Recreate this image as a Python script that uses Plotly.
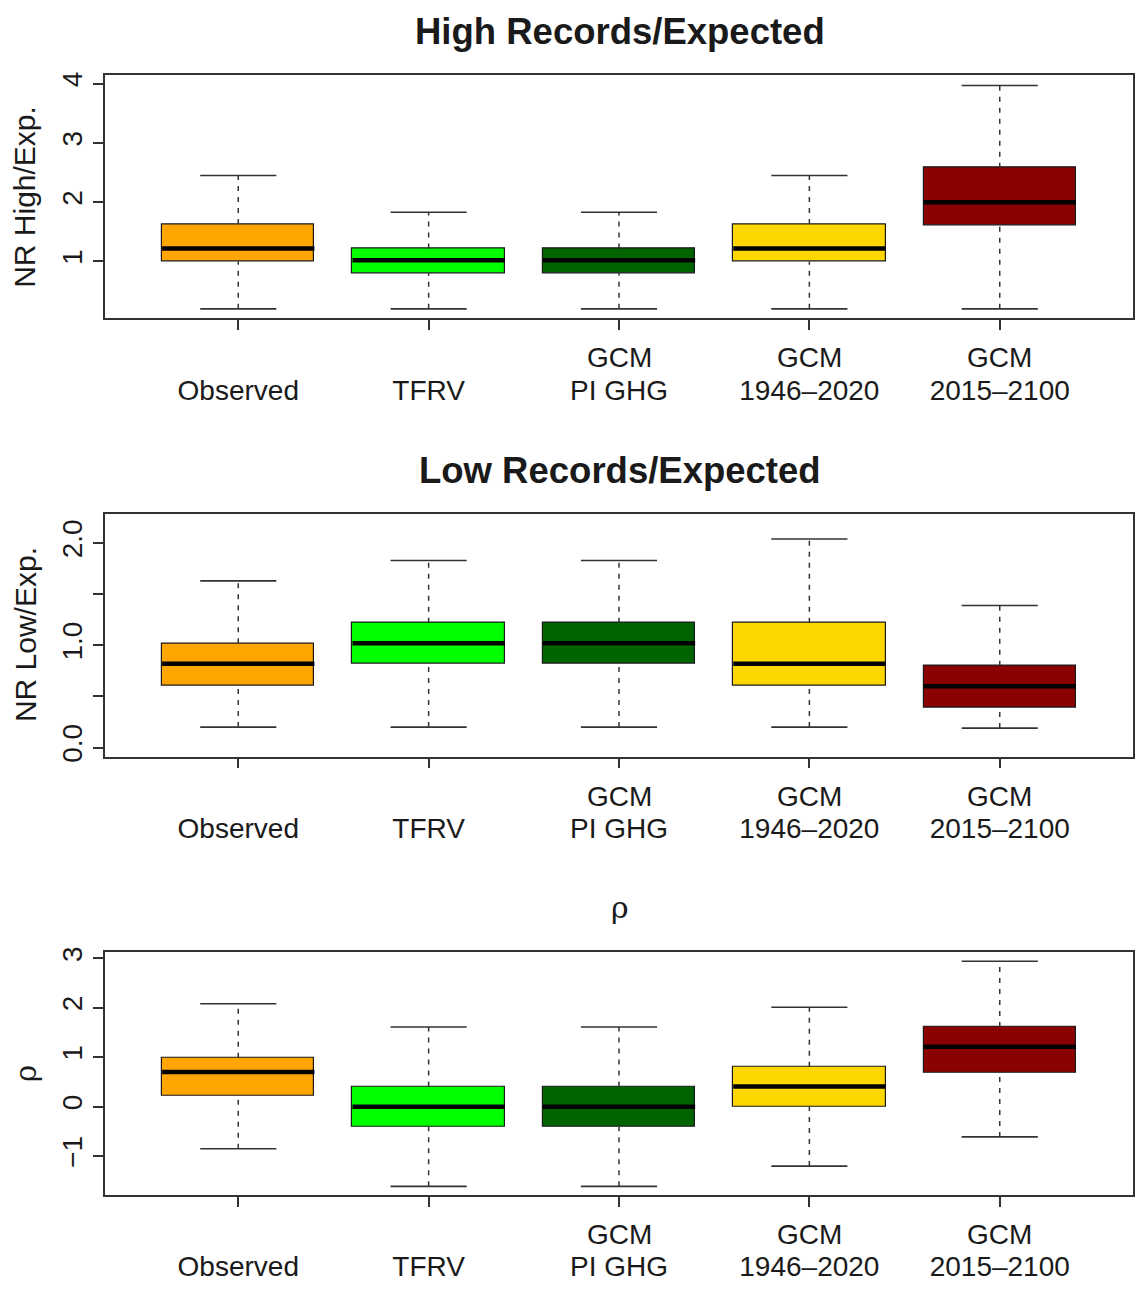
import plotly.graph_objects as go

# ---------------- data ----------------
categories_top = ["", "", "GCM", "GCM", "GCM"]
categories_bottom = ["Observed", "TFRV", "PI GHG", "1946–2020", "2015–2100"]
box_colors = ["#FFA500", "#00FF00", "#006400", "#FFD700", "#8B0000"]

# High records / expected
high_lo = [0.20, 0.20, 0.20, 0.20, 0.20]
high_q1 = [1.00, 0.80, 0.80, 1.00, 1.60]
high_med = [1.22, 1.02, 1.02, 1.22, 2.00]
high_q3 = [1.63, 1.22, 1.22, 1.63, 2.58]
high_hi = [2.45, 1.83, 1.83, 2.45, 3.97]

# Low records / expected
low_lo = [0.20, 0.20, 0.20, 0.20, 0.19]
low_q1 = [0.61, 0.82, 0.82, 0.61, 0.39]
low_med = [0.82, 1.02, 1.02, 0.82, 0.60]
low_q3 = [1.02, 1.22, 1.22, 1.22, 0.80]
low_hi = [1.63, 1.83, 1.83, 2.04, 1.39]

# rho
rho_lo = [-0.85, -1.61, -1.61, -1.20, -0.61]
rho_q1 = [0.22, -0.41, -0.41, 0.00, 0.69]
rho_med = [0.70, 0.00, 0.00, 0.41, 1.21]
rho_q3 = [0.99, 0.41, 0.41, 0.81, 1.61]
rho_hi = [2.08, 1.61, 1.61, 2.01, 2.94]

y_ticks_1 = [1, 2, 3, 4]
y_ticklabels_1 = ["1", "2", "3", "4"]
y_ticks_2 = [0, 0.5, 1.0, 1.5, 2.0]
y_ticklabels_2 = ["0.0", "", "1.0", "", "2.0"]
y_ticks_3 = [-1, 0, 1, 2, 3]
y_ticklabels_3 = ["\u22121", "0", "1", "2", "3"]

panel_titles = ["<b>High Records/Expected</b>", "<b>Low Records/Expected</b>", "\u03c1"]
y_titles = ["NR High/Exp.", "NR Low/Exp.", "\u03c1"]

# ---------------- layout geometry (pixels) ----------------
W, H = 1136, 1292
plot_left, plot_right = 105, 1133
panels_px = [(71, 316), (513, 758), (955, 1200)]
title_y_px = [27, 469, 910]
gcm_offset_px = 40          # first label line below the plot bottom
y_ranges = [[0.04, 4.14], [-0.088, 2.288], [-1.78, 3.13]]

positions = [1, 2, 3, 4, 5]
box_w = 0.8
cap_w = 0.4

FONT = "Liberation Sans, Arial, Helvetica, sans-serif"
INK = "#1a1a1a"

fig = go.Figure()

datasets = [
    (high_lo, high_q1, high_med, high_q3, high_hi),
    (low_lo, low_q1, low_med, low_q3, low_hi),
    (rho_lo, rho_q1, rho_med, rho_q3, rho_hi),
]
yticks = [(y_ticks_1, y_ticklabels_1), (y_ticks_2, y_ticklabels_2), (y_ticks_3, y_ticklabels_3)]

annotations = []
for i, (lo, q1, med, q3, hi) in enumerate(datasets):
    xa = "x" if i == 0 else f"x{i+1}"
    ya = "y" if i == 0 else f"y{i+1}"
    # boxes
    fig.add_trace(go.Bar(
        x=positions, y=[b - a for a, b in zip(q1, q3)], base=q1, width=box_w,
        marker=dict(color=box_colors, line=dict(color=INK, width=1.2)),
        xaxis=xa, yaxis=ya, showlegend=False, hoverinfo="skip"))
    # whiskers (dashed)
    wx, wy = [], []
    for p, a, b, c, d in zip(positions, lo, q1, q3, hi):
        wx += [p, p, None, p, p, None]
        wy += [a, b, None, c, d, None]
    fig.add_trace(go.Scatter(x=wx, y=wy, mode="lines",
                             line=dict(color="#333333", width=1.5, dash="5px,6px"),
                             xaxis=xa, yaxis=ya, showlegend=False, hoverinfo="skip"))
    # caps
    cx, cy = [], []
    for p, a, d in zip(positions, lo, hi):
        cx += [p - cap_w / 2, p + cap_w / 2, None, p - cap_w / 2, p + cap_w / 2, None]
        cy += [a, a, None, d, d, None]
    fig.add_trace(go.Scatter(x=cx, y=cy, mode="lines",
                             line=dict(color="#333333", width=1.6),
                             xaxis=xa, yaxis=ya, showlegend=False, hoverinfo="skip"))
    # medians
    mx, my = [], []
    for p, m in zip(positions, med):
        mx += [p - box_w / 2, p + box_w / 2, None]
        my += [m, m, None]
    fig.add_trace(go.Scatter(x=mx, y=my, mode="lines",
                             line=dict(color="black", width=4.5),
                             xaxis=xa, yaxis=ya, showlegend=False, hoverinfo="skip"))

    top, bot = panels_px[i]
    dom_y = [1 - bot / H, 1 - top / H]
    xkey = "xaxis" if i == 0 else f"xaxis{i+1}"
    ykey = "yaxis" if i == 0 else f"yaxis{i+1}"
    fig.update_layout(**{
        xkey: dict(domain=[plot_left / W, plot_right / W], range=[0.3, 5.7],
                   anchor=ya, tickmode="array", tickvals=positions, ticktext=categories_bottom,
                   ticks="outside", ticklen=10, tickwidth=1.5, tickcolor="#333333",
                   ticklabelstandoff=36,
                   showline=True, linecolor="#333333", linewidth=1.5, mirror=True,
                   showgrid=False, zeroline=False, fixedrange=True,
                   tickfont=dict(family=FONT, size=28, color=INK)),
        ykey: dict(domain=dom_y, range=y_ranges[i], anchor=xa,
                   tickmode="array", tickvals=yticks[i][0], ticktext=yticks[i][1],
                   ticks="outside", ticklen=10, tickwidth=1.5, tickcolor="#333333",
                   tickangle=-90,
                   showline=True, linecolor="#333333", linewidth=1.5, mirror=True,
                   showgrid=False, zeroline=False, fixedrange=True,
                   tickfont=dict(family=FONT, size=28, color=INK)),
    })

    # upper line of the two-line category labels
    for p, t in zip(positions, categories_top):
        if t:
            annotations.append(dict(
                text=t, x=p, xref=xa, y=1 - (bot + gcm_offset_px) / H, yref="paper",
                xanchor="center", yanchor="middle", showarrow=False,
                font=dict(family=FONT, size=28, color=INK)))
    annotations.append(dict(
        text=panel_titles[i], x=620 / W, y=1 - title_y_px[i] / H, xref="paper", yref="paper",
        xanchor="center", yanchor="middle", showarrow=False,
        font=dict(family=FONT if i < 2 else "DejaVu Serif, serif",
                  size=36.5 if i < 2 else 30, color=INK)))
    annotations.append(dict(
        text=y_titles[i], x=25 / W, y=1 - ((top + bot) / 2) / H, xref="paper", yref="paper",
        xanchor="center", yanchor="middle", textangle=-90, showarrow=False,
        font=dict(family=FONT if i < 2 else "DejaVu Serif, serif", size=30, color=INK)))

fig.update_layout(
    width=W, height=H,
    margin=dict(l=0, r=0, t=0, b=0),
    paper_bgcolor="white", plot_bgcolor="white",
    annotations=annotations, bargap=0, hovermode=False,
)

fig.write_html("out.html", config={"displayModeBar": False},
               post_script="document.body.style.margin='0px';")
